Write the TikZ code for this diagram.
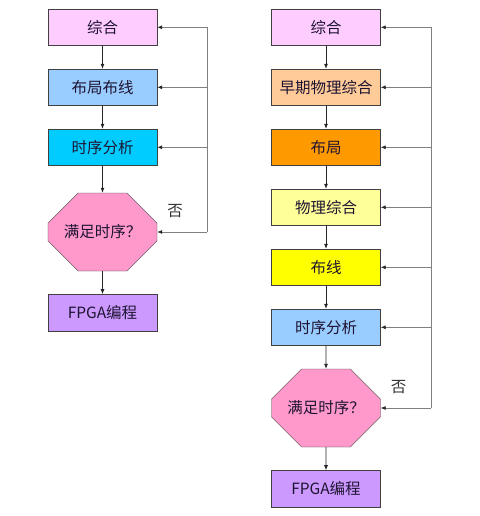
\documentclass[tikz,border=0pt]{standalone}
\usepackage{fontspec}
\newfontfamily\cjk{Noto Sans CJK SC}
\usepackage{xcolor}
\usetikzlibrary{positioning,shapes.misc,arrows.meta}
\definecolor{synpink}{RGB}{255,204,255}
\definecolor{parblue}{RGB}{153,204,255}
\definecolor{stacyan}{RGB}{0,204,255}
\definecolor{chkpink}{RGB}{255,153,204}
\definecolor{fpgaviolet}{RGB}{204,153,255}
\definecolor{earlypeach}{RGB}{255,204,153}
\definecolor{placeorange}{RGB}{255,153,0}
\definecolor{physyellow}{RGB}{255,255,153}
\definecolor{routeyellow}{RGB}{255,255,0}
\definecolor{textnavy}{RGB}{30,20,50}

\begin{document}
\begin{tikzpicture}[
    x=1pt, y=1pt,
    node distance=23pt,
    box/.style={
        rectangle, draw=black!75, fill=#1, text=textnavy,
        minimum width=109pt, minimum height=36.6pt, inner sep=2pt,
        font=\cjk\fontsize{15.5}{18}\selectfont
    },
    check/.style={
        chamfered rectangle, chamfered rectangle xsep=20pt, chamfered rectangle ysep=23pt,
        draw=black!75, fill=chkpink, text=textnavy,
        minimum width=109pt, minimum height=78pt, inner sep=0pt,
        font=\cjk\fontsize{15.5}{18}\selectfont
    },
    flow/.style={draw=black!85, line width=0.7pt, -{Latex[length=5pt, width=4pt]}},
    fbflow/.style={draw=black!50, line width=0.7pt, -{Latex[length=5pt, width=4pt, color=black!85]}},
    busline/.style={draw=black!50, line width=0.7pt},
    nolabel/.style={font=\cjk\fontsize{15.5}{18}\selectfont, text=black!80}
]
    \useasboundingbox (0,0) rectangle (479,-516);

    \node[box=synpink] (synL) at (102.5,-27.3) {综合};
    \node[box=parblue, below=of synL] (parL) {布局布线};
    \node[box=stacyan, below=of parL] (staL) {时序分析};
    \node[check, below=27pt of staL] (chkL) {满足时序？};
    \node[box=fpgaviolet, below=of chkL] (fpgaL) {FPGA编程};
    \coordinate (busL) at (207,-27.3);
    \node[nolabel] (noL) at ([xshift=18pt, yshift=21pt]chkL.east) {否};

    \node[box=synpink] (synR) at (326,-27.3) {综合};
    \node[box=earlypeach, below=of synR] (earlyR) {早期物理综合};
    \node[box=placeorange, below=of earlyR] (placeR) {布局};
    \node[box=physyellow, below=of placeR] (physR) {物理综合};
    \node[box=routeyellow, below=of physR] (routeR) {布线};
    \node[box=parblue, below=of routeR] (staR) {时序分析};
    \node[check, below=of staR] (chkR) {满足时序？};
    \node[box=fpgaviolet, below=of chkR] (fpgaR) {FPGA编程};
    \coordinate (busR) at (431,-27.3);
    \node[nolabel] (noR) at ([xshift=18pt, yshift=21pt]chkR.east) {否};

    \draw[flow] (synL) -- (parL);
    \draw[flow] (parL) -- (staL);
    \draw[flow] (staL) -- (chkL);
    \draw[flow] (chkL) -- (fpgaL);
    \draw[busline] (busL |- chkL.east) -- (busL);
    \foreach \n in {synL,parL,staL,chkL}
        \draw[fbflow] (busL |- \n.east) -- (\n.east);

    \draw[flow] (synR) -- (earlyR);
    \draw[flow] (earlyR) -- (placeR);
    \draw[flow] (placeR) -- (physR);
    \draw[flow] (physR) -- (routeR);
    \draw[flow] (routeR) -- (staR);
    \draw[flow] (staR) -- (chkR);
    \draw[flow] (chkR) -- (fpgaR);
    \draw[busline] (busR |- chkR.east) -- (busR);
    \foreach \n in {synR,earlyR,placeR,physR,routeR,staR,chkR}
        \draw[fbflow] (busR |- \n.east) -- (\n.east);
\end{tikzpicture}
\end{document}
